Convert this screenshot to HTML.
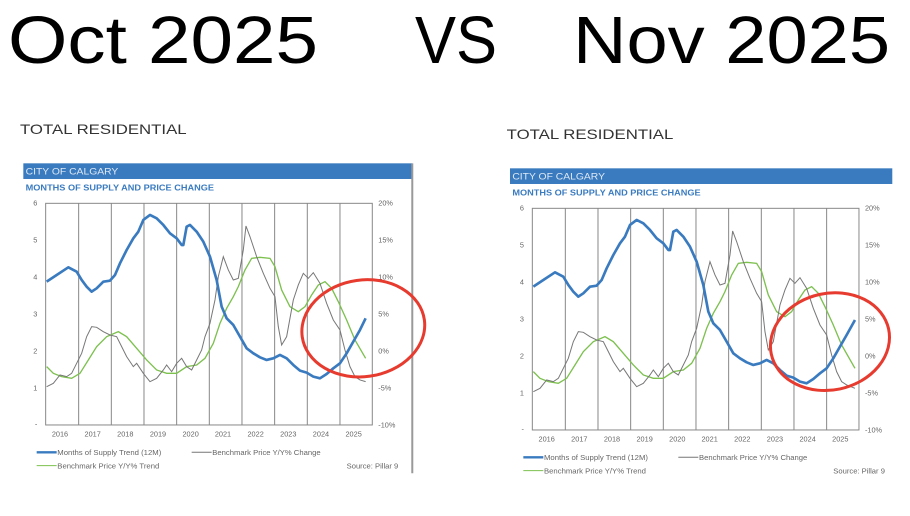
<!DOCTYPE html>
<html><head><meta charset="utf-8"><style>
html,body{margin:0;padding:0;background:#fff;}
svg{display:block;font-family:"Liberation Sans",sans-serif;}
</style></head><body>
<svg width="910" height="516" viewBox="0 0 910 516" xmlns="http://www.w3.org/2000/svg">
<rect width="910" height="516" fill="#fff"/>
<text x="8" y="63" font-size="67" textLength="310" lengthAdjust="spacingAndGlyphs">Oct 2025</text>
<text x="415" y="63" font-size="67" textLength="82" lengthAdjust="spacingAndGlyphs">VS</text>
<text x="573" y="63" font-size="67" textLength="317" lengthAdjust="spacingAndGlyphs">Nov 2025</text>

<defs>
<g id="chart">
  <text x="60" y="72" font-size="42" fill="#333" textLength="500" lengthAdjust="spacingAndGlyphs">TOTAL RESIDENTIAL</text>
  <rect x="70" y="160" width="1167" height="47" fill="#3a7bc0"/>
  <text x="77" y="194" font-size="28" fill="#dfe9f5" textLength="278" lengthAdjust="spacingAndGlyphs">CITY OF CALGARY</text>
  <text x="77" y="241" font-size="25" font-weight="bold" fill="#3a7bc0" textLength="565" lengthAdjust="spacingAndGlyphs">MONTHS OF SUPPLY AND PRICE CHANGE</text>
  <g stroke="#888" stroke-width="3" fill="none">
    <rect x="137" y="280" width="980" height="665"/>
    <path d="M236 280V945M334 280V945M432 280V945M530 280V945M628 280V945M726 280V945M824 280V945M922 280V945M1020 280V945"/>
  </g>
  <g font-size="22" fill="#666" text-anchor="end">
    <text x="112" y="287">6</text><text x="112" y="398">5</text><text x="112" y="509">4</text>
    <text x="112" y="620">3</text><text x="112" y="731">2</text><text x="112" y="842">1</text><text x="112" y="950">-</text>
  </g>
  <g font-size="22" fill="#666">
    <text x="1135" y="287">20%</text><text x="1135" y="398">15%</text><text x="1135" y="509">10%</text>
    <text x="1135" y="620">5%</text><text x="1135" y="731">0%</text><text x="1135" y="842">-5%</text><text x="1135" y="953">-10%</text>
  </g>
  <g font-size="22" fill="#666" text-anchor="middle">
    <text x="180" y="980">2016</text><text x="278" y="980">2017</text><text x="376" y="980">2018</text>
    <text x="474" y="980">2019</text><text x="572" y="980">2020</text><text x="669" y="980">2021</text>
    <text x="767" y="980">2022</text><text x="865" y="980">2023</text><text x="963" y="980">2024</text><text x="1061" y="980">2025</text>
  </g>
  <g font-size="21" fill="#666">
    <line x1="110" y1="1027" x2="170" y2="1027" stroke="#3a7bc0" stroke-width="7"/>
    <text x="172" y="1035" textLength="312" lengthAdjust="spacingAndGlyphs">Months of Supply Trend (12M)</text>
    <line x1="575" y1="1027" x2="635" y2="1027" stroke="#777" stroke-width="3"/>
    <text x="637" y="1035" textLength="325" lengthAdjust="spacingAndGlyphs">Benchmark Price Y/Y% Change</text>
    <line x1="110" y1="1067" x2="170" y2="1067" stroke="#7cc04e" stroke-width="3"/>
    <text x="172" y="1075" textLength="306" lengthAdjust="spacingAndGlyphs">Benchmark Price Y/Y% Trend</text>
    <text x="1040" y="1075" textLength="155" lengthAdjust="spacingAndGlyphs">Source: Pillar 9</text>
  </g>
</g>
</defs>

<!-- LEFT -->
<g transform="translate(0,110) scale(0.3333)">
  <use href="#chart"/>
  <line x1="1237" y1="160" x2="1237" y2="1090" stroke="#999" stroke-width="6"/>
  <polyline fill="none" stroke="#7cc04e" stroke-width="4" points="140,770 160,790 185,800 215,805 240,790 265,750 290,710 320,680 355,665 380,680 410,715 440,750 470,780 500,790 530,790 560,770 590,765 615,745 640,700 660,640 680,595 700,560 715,530 735,480 755,445 780,442 810,445 825,470 845,540 870,590 895,605 915,590 935,555 955,525 975,515 995,535 1015,575 1040,630 1065,690 1097,745"/>
  <polyline fill="none" stroke="#777" stroke-width="3" points="140,830 160,820 180,795 200,800 215,790 230,760 245,730 260,680 275,650 290,652 310,665 330,675 350,680 365,710 380,740 400,770 410,760 430,790 450,815 470,805 490,780 500,765 515,785 530,760 545,745 560,770 575,780 590,750 605,720 615,680 630,640 645,570 655,500 670,440 685,480 700,510 715,505 730,420 738,348 750,380 770,440 790,490 810,535 825,560 835,650 845,705 860,680 880,570 895,525 910,490 925,505 940,488 960,520 980,580 1000,630 1020,660 1035,720 1050,770 1065,800 1080,810 1097,815"/>
  <polyline fill="none" stroke="#3a7bc0" stroke-width="8" stroke-linejoin="round" points="140,515 170,495 205,472 230,485 245,510 260,530 275,545 290,535 310,515 330,512 345,495 360,460 380,420 400,385 415,365 430,330 450,315 470,325 490,345 510,370 530,385 545,405 550,405 560,350 570,345 590,365 610,395 630,440 650,510 665,590 680,625 700,645 720,680 740,715 760,730 780,742 800,750 820,745 840,735 860,745 880,765 900,782 920,788 940,800 960,805 980,792 1000,775 1020,760 1040,730 1060,695 1080,660 1097,625"/>
  <ellipse cx="1090" cy="655" rx="185" ry="145" transform="rotate(-8 1090 655)" fill="none" stroke="#e63b2e" stroke-width="9"/>
</g>

<!-- RIGHT -->
<g transform="translate(495,115) scale(0.3333)">
  <g transform="translate(-25,0)"><use href="#chart"/>
  <rect x="1217" y="155" width="40" height="60" fill="#fff"/>
  <polyline fill="none" stroke="#7cc04e" stroke-width="4" points="140,770 160,790 185,800 215,805 240,790 265,750 290,710 320,680 355,665 380,680 410,715 440,750 470,780 500,790 530,790 560,770 590,765 615,745 640,700 660,640 680,595 700,560 715,530 735,480 755,445 780,442 810,445 825,470 845,540 870,590 895,605 915,590 935,555 955,525 975,515 995,535 1015,575 1040,630 1065,690 1105,760"/>
  <polyline fill="none" stroke="#777" stroke-width="3" points="140,830 160,820 180,795 200,800 215,790 230,760 245,730 260,680 275,650 290,652 310,665 330,675 350,680 365,710 380,740 400,770 410,760 430,790 450,815 470,805 490,780 500,765 515,785 530,760 545,745 560,770 575,780 590,750 605,720 615,680 630,640 645,570 655,500 670,440 685,480 700,510 715,505 730,420 738,348 750,380 770,440 790,490 810,535 825,560 835,650 845,705 860,680 880,570 895,525 910,490 925,505 940,488 960,520 980,580 1000,630 1020,660 1035,720 1050,770 1065,800 1080,810 1105,820"/>
  <polyline fill="none" stroke="#3a7bc0" stroke-width="8" stroke-linejoin="round" points="140,515 170,495 205,472 230,485 245,510 260,530 275,545 290,535 310,515 330,512 345,495 360,460 380,420 400,385 415,365 430,330 450,315 470,325 490,345 510,370 530,385 545,405 550,405 560,350 570,345 590,365 610,395 630,440 650,510 665,590 680,625 700,645 720,680 740,715 760,730 780,742 800,750 820,745 840,735 860,745 880,765 900,782 920,788 940,800 960,805 980,792 1000,775 1020,760 1040,730 1060,695 1080,660 1105,615"/>
  </g>
  <ellipse cx="1005" cy="680" rx="180" ry="145" transform="rotate(-12 1005 680)" fill="none" stroke="#e63b2e" stroke-width="9"/>
</g>
</svg>
</body></html>
